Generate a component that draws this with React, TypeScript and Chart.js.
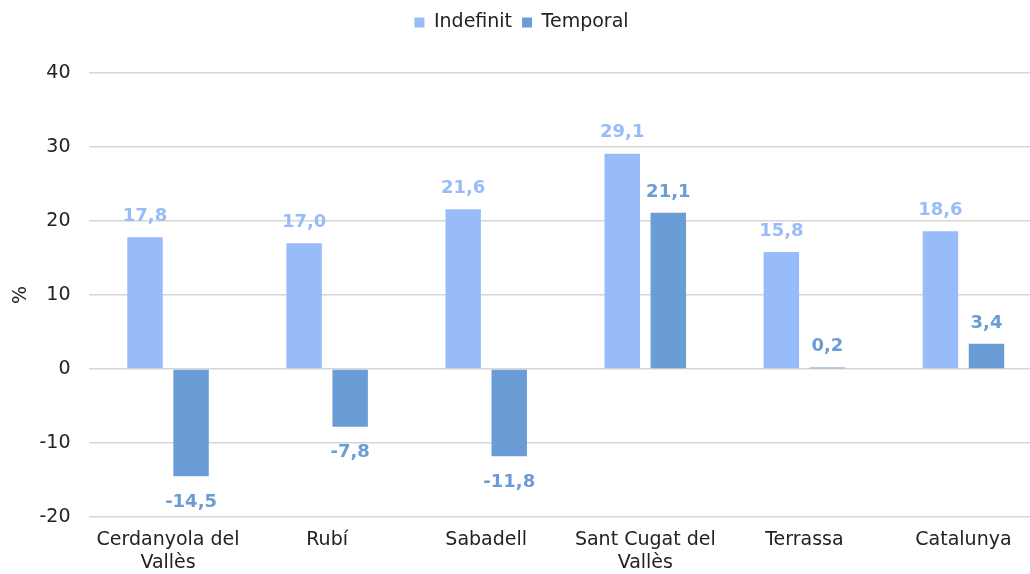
import React, { useEffect, useRef } from 'react';
import { Chart, registerables } from 'chart.js';

Chart.register(...registerables);

const categories: (string | string[])[] = [
  ['Cerdanyola del', 'Vallès'],
  'Rubí',
  'Sabadell',
  ['Sant Cugat del', 'Vallès'],
  'Terrassa',
  'Catalunya',
];
const indefinit = [17.8, 17.0, 21.6, 29.1, 15.8, 18.6];
const temporal = [-14.5, -7.8, -11.8, 21.1, 0.2, 3.4];
const yMin = -20;
const yMax = 40;
const yStep = 10;

const COLOR_INDEF = '#98BCFA';
const COLOR_TEMP = '#6A9DD6';
const FONT = '"DejaVu Sans", sans-serif';

const fmt = (v: number) => v.toFixed(1).replace('.', ',');

const valueLabels = {
  id: 'valueLabels',
  afterDatasetsDraw(chart: any) {
    const ctx = chart.ctx;
    chart.data.datasets.forEach((ds: any, di: number) => {
      const meta = chart.getDatasetMeta(di);
      meta.data.forEach((bar: any, i: number) => {
        const v = ds.data[i] as number;
        const { x, y } = bar.getProps(['x', 'y'], true);
        ctx.save();
        ctx.font = 'bold 18px ' + FONT;
        ctx.fillStyle = ds.backgroundColor;
        ctx.textAlign = 'center';
        ctx.textBaseline = 'middle';
        const ty = v >= 0 ? y - 21 : y + 26;
        ctx.fillText(fmt(v), x, ty);
        ctx.restore();
      });
    });
  },
};

const legendSpace = {
  id: 'legendSpace',
  afterInit(chart: any) {
    const lg = chart.legend;
    if (!lg) return;
    const orig = lg.fit.bind(lg);
    lg.fit = function () {
      orig();
      this.height = 70;
    };
  },
};

export default function App() {
  const ref = useRef<HTMLCanvasElement>(null);
  useEffect(() => {
    if (!ref.current) return;
    const chart = new Chart(ref.current, {
      type: 'bar',
      data: {
        labels: categories as any,
        datasets: [
          {
            label: 'Indefinit',
            data: indefinit,
            backgroundColor: COLOR_INDEF,
            categoryPercentage: 0.579,
            barPercentage: 0.77,
          },
          {
            label: 'Temporal',
            data: temporal,
            backgroundColor: COLOR_TEMP,
            categoryPercentage: 0.579,
            barPercentage: 0.77,
          },
        ],
      },
      options: {
        responsive: false,
        animation: false,
        layout: { padding: { top: 3, left: 0, right: 0, bottom: 0 } },
        plugins: {
          legend: {
            position: 'top',
            labels: {
              boxWidth: 10,
              boxHeight: 10,
              padding: 10,
              color: '#222',
              font: { family: FONT, size: 19 },
            },
          },
          tooltip: { enabled: false },
        },
        scales: {
          x: {
            grid: { display: false, drawTicks: false },
            border: { display: false },
            ticks: {
              color: '#222',
              font: { family: FONT, size: 19 },
              padding: 12,
              autoSkip: false,
              maxRotation: 0,
            },
            afterFit(scale: any) {
              scale.height = 57;
            },
          },
          y: {
            min: yMin,
            max: yMax,
            ticks: {
              stepSize: yStep,
              color: '#222',
              font: { family: FONT, size: 19 },
              padding: 18,
            },
            grid: { color: '#d6d6d6', lineWidth: 1.5, drawTicks: false },
            border: { display: false },
            title: {
              display: true,
              text: '%',
              color: '#222',
              font: { family: FONT, size: 19 },
              padding: { top: 10, bottom: 0 },
            },
            afterFit(scale: any) {
              scale.width = 88.5;
            },
          },
        },
      },
      plugins: [valueLabels, legendSpace],
    });
    return () => chart.destroy();
  }, []);
  return (
    <div
      style={{
        position: 'absolute',
        left: 0,
        top: 0,
        width: 1030,
        height: 574,
        overflow: 'hidden',
        background: '#fff',
      }}
    >
      <canvas ref={ref} width={1043} height={574} style={{ display: 'block' }} />
    </div>
  );
}
